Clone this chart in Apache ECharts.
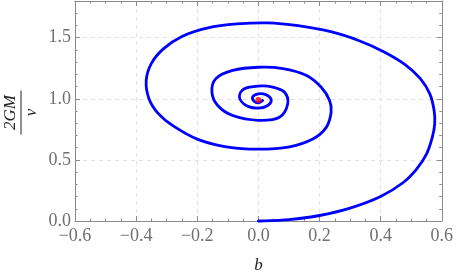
<!DOCTYPE html>
<html>
<head>
<meta charset="utf-8">
<script src="https://cdn.jsdelivr.net/npm/echarts@6/dist/echarts.min.js"></script>
<style>
html,body{margin:0;padding:0;background:#fff;}
#chart{width:456px;height:280px;}
</style>
</head>
<body>
<div id="chart"></div>
<script>
// Spiral trajectory (b, 2GM/v)
var spiralB = [0, 0.10, 0.20, 0.30, 0.40, 0.473, 0.517, 0.550, 0.569, 0.577, 0.575, 0.561, 0.530, 0.48, 0.41, 0.33, 0.24, 0.13, 0.03,
  -0.07, -0.165, -0.25, -0.31, -0.35, -0.367, -0.358, -0.328, -0.28, -0.20, -0.105, 0,
  0.102, 0.178, 0.222, 0.238, 0.233, 0.205, 0.156, 0.080, 0, -0.084, -0.139, -0.152, -0.133, -0.084, 0,
  0.069, 0.096, 0.085, 0.047, 0, -0.046, -0.062, -0.040, 0,
  0.031, 0.042, 0.025, 0, -0.019, -0.013, 0, 0.014];
var spiralV = [0, 0.012, 0.045, 0.105, 0.200, 0.313, 0.423, 0.547, 0.684, 0.794, 0.904, 1.04, 1.165, 1.28, 1.385, 1.475, 1.547, 1.598, 1.621,
  1.612, 1.58, 1.51, 1.41, 1.29, 1.15, 1.00, 0.88, 0.78, 0.67, 0.607, 0.588,
  0.607, 0.670, 0.766, 0.890, 0.986, 1.096, 1.192, 1.247, 1.258, 1.232, 1.165, 1.055, 0.945, 0.863, 0.824,
  0.849, 0.959, 1.055, 1.096, 1.104, 1.082, 1.014, 0.945, 0.923,
  0.945, 0.992, 1.033, 1.041, 1.014, 0.978, 0.967, 0.986];
var centerB = [0];
var centerV = [0.99];
var xTicks = [-0.6, -0.4, -0.2, 0.0, 0.2, 0.4, 0.6];
var yTicks = [0.0, 0.5, 1.0, 1.5];

var spiralData = spiralB.map(function (b, i) { return [b, spiralV[i]]; });
var centerData = centerB.map(function (b, i) { return [b, centerV[i]]; });

var serif = 'Liberation Serif';
var gray = '#8a8a8a';
function fmt(v) {
  if (Math.abs(v) < 1e-9) return '0.0';
  return (v < 0 ? '\u2212' : '') + Math.abs(v).toFixed(1);
}
function onTicks(list, v) {
  for (var i = 0; i < list.length; i++) if (Math.abs(list[i] - v) < 1e-6) return true;
  return false;
}
var baseTick = { show: true, inside: true, length: 5, lineStyle: { color: gray, width: 1 } };
var dashed = { show: true, lineStyle: { color: '#e2e2e2', type: [4, 4], width: 1 } };

// Smooth path (Catmull-Rom as cubic Beziers) through pixel points from the axes
function smoothPath(pts) {
  var d = 'M' + pts[0][0] + ' ' + pts[0][1];
  for (var i = 0; i < pts.length - 1; i++) {
    var p0 = pts[i - 1] || pts[i], p1 = pts[i], p2 = pts[i + 1], p3 = pts[i + 2] || pts[i + 1];
    var t = 6;
    var c1 = [p1[0] + (p2[0] - p0[0]) / t, p1[1] + (p2[1] - p0[1]) / t];
    var c2 = [p2[0] - (p3[0] - p1[0]) / t, p2[1] - (p3[1] - p1[1]) / t];
    d += ' C' + c1[0] + ' ' + c1[1] + ' ' + c2[0] + ' ' + c2[1] + ' ' + p2[0] + ' ' + p2[1];
  }
  return d;
}

var chart = echarts.init(document.getElementById('chart'), null, { renderer: 'canvas' });
chart.setOption({
  animation: false,
  backgroundColor: '#fff',
  grid: { left: 75, right: 13, top: 1, bottom: 59, containLabel: false },
  xAxis: [{
    type: 'value', min: -0.6, max: 0.6, interval: 0.2, position: 'bottom',
    axisLine: { show: true, onZero: false, lineStyle: { color: gray, width: 1 } },
    axisTick: baseTick,
    minorTick: { show: true, splitNumber: 4, length: 2.5, lineStyle: { color: gray } },
    splitLine: dashed,
    axisLabel: { show: true, margin: 6, color: '#707070', fontFamily: serif, fontSize: 18,
      formatter: function (v) { return onTicks(xTicks, v) ? fmt(v) : ''; } },
    name: 'b', nameLocation: 'middle', nameGap: 36,
    nameTextStyle: { fontFamily: serif, fontStyle: 'italic', fontSize: 17, color: '#222' }
  }, {
    type: 'value', min: -0.6, max: 0.6, interval: 0.2, position: 'top',
    axisLine: { show: true, onZero: false, lineStyle: { color: gray, width: 1 } },
    axisTick: baseTick,
    minorTick: { show: true, splitNumber: 4, length: 2.5, lineStyle: { color: gray } },
    splitLine: { show: false }, axisLabel: { show: false }
  }],
  yAxis: [{
    type: 'value', min: 0, max: 1.8, interval: 0.5, position: 'left',
    axisLine: { show: true, onZero: false, lineStyle: { color: gray, width: 1 } },
    axisTick: baseTick,
    minorTick: { show: true, splitNumber: 5, length: 2.5, lineStyle: { color: gray } },
    splitLine: dashed,
    axisLabel: { show: true, margin: 4, color: '#707070', fontFamily: serif, fontSize: 18,
      showMaxLabel: false,
      formatter: function (v) { return onTicks(yTicks, v) ? fmt(v) : ''; } }
  }, {
    type: 'value', min: 0, max: 1.8, interval: 0.5, position: 'right',
    axisLine: { show: true, onZero: false, lineStyle: { color: gray, width: 1 } },
    axisTick: baseTick,
    minorTick: { show: true, splitNumber: 5, length: 2.5, lineStyle: { color: gray } },
    splitLine: { show: false }, axisLabel: { show: false }
  }],
  graphic: [{
    type: 'group', left: 2, top: 88,
    children: [{
      type: 'group', rotation: Math.PI / 2, x: 0, y: 0,
      children: [
        { type: 'text', x: 0, y: -2, style: { text: '2GM', font: 'italic 17px "Liberation Serif"', fill: '#222', textAlign: 'center', textVerticalAlign: 'bottom' } },
        { type: 'line', shape: { x1: -22, y1: 0, x2: 22, y2: 0 }, style: { stroke: '#222', lineWidth: 1 } },
        { type: 'text', x: 0, y: 2, style: { text: 'v', font: 'italic 17px "Liberation Serif"', fill: '#222', textAlign: 'center', textVerticalAlign: 'top' } }
      ]
    }]
  }],
  series: [{
    type: 'custom', xAxisIndex: 0, yAxisIndex: 0,
    coordinateSystem: 'cartesian2d',
    data: [spiralData[0]],
    encode: { x: 0, y: 1 },
    renderItem: function (params, api) {
      var pts = spiralData.map(function (p) { return api.coord(p); });
      return {
        type: 'path',
        shape: { pathData: smoothPath(pts) },
        style: { fill: 'none', stroke: '#0000ff', lineWidth: 2.8, lineJoin: 'round', lineCap: 'round' }
      };
    },
    clip: false, z: 3
  }, {
    type: 'scatter', xAxisIndex: 0, yAxisIndex: 0,
    data: centerData, symbolSize: 6,
    itemStyle: { color: '#ff0000' }, z: 4
  }]
});
</script>
</body>
</html>
